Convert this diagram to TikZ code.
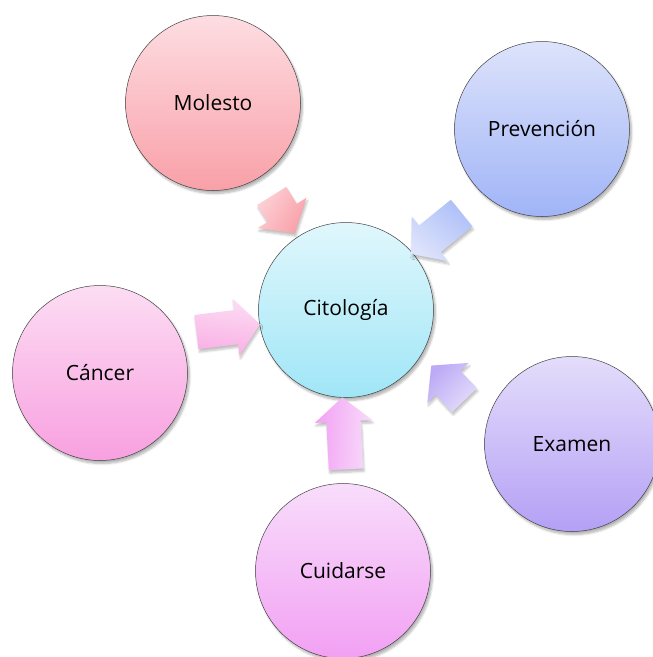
\documentclass[tikz,border=0pt]{standalone}
\usepackage{fontspec}
\setmainfont{Open Sans}
\usepackage{tikz}
\usetikzlibrary{shapes.arrows,shadows.blur,calc}

\definecolor{molestoA}{HTML}{FDDDE2}
\definecolor{molestoB}{HTML}{F9A0A8}
\definecolor{prevA}{HTML}{DDE3FB}
\definecolor{prevB}{HTML}{A0B4F7}
\definecolor{citoA}{HTML}{E0F7FC}
\definecolor{citoB}{HTML}{A0E6F7}
\definecolor{cancerA}{HTML}{FCDDF3}
\definecolor{cancerB}{HTML}{F8A0E0}
\definecolor{examenA}{HTML}{E4DDFB}
\definecolor{examenB}{HTML}{B4A0F5}
\definecolor{cuidA}{HTML}{F8DDFB}
\definecolor{cuidB}{HTML}{F2A0F3}

\begin{document}
\begin{tikzpicture}[x=1pt,y=-1pt,
  bubble/.style={circle, draw=black!75, line width=0.5pt, minimum size=175pt, inner sep=0pt,
    font=\fontsize{21}{25}\selectfont,
    blur shadow={shadow xshift=2pt, shadow yshift=-3pt, shadow opacity=30, shadow blur steps=6}},
  flow/.style={single arrow, draw=none, single arrow head extend=11.5pt, single arrow tip angle=100,
    minimum width=57pt, inner xsep=0pt, inner ysep=17pt, minimum height=#1,
    blur shadow={shadow xshift=1pt, shadow yshift=-3pt, shadow opacity=25, shadow blur steps=5}},
  turn/.style={rotate=#1, shading angle=-#1}]
  \useasboundingbox (0,0) rectangle (653,657);

  \node[bubble, top color=molestoA, bottom color=molestoB] (molesto) at (213,103) {Molesto};
  \node[bubble, top color=prevA, bottom color=prevB] (prevencion) at (542,129) {Prevención};
  \node[bubble, top color=citoA, bottom color=citoB] (citologia) at (346,310) {Citología};
  \node[bubble, top color=cancerA, bottom color=cancerB] (cancer) at (100,373) {Cáncer};
  \node[bubble, top color=examenA, bottom color=examenB] (examen) at (572,444) {Examen};
  \node[bubble, top color=cuidA, bottom color=cuidB] (cuidarse) at (343,571) {Cuidarse};

  % flechas hacia el centro
  \node[flow=44pt, top color=molestoA!80!molestoB, bottom color=molestoB, turn=-58] (f1)
    at ($(molesto)!.5!(citologia)+(0,2)$) {};
  \node[flow=65pt, top color=prevA, bottom color=prevB!85!white, turn=-141] (f2)
    at ($(prevencion)!.5!(citologia)+(-2,9.5)$) {};
  \node[flow=64pt, top color=cancerA, bottom color=cancerB!85!white, turn=7] (f3)
    at ($(cancer)!.5!(citologia)+(-2,-12.5)$) {};
  \node[flow=48pt, top color=examenA, bottom color=examenB!90!white, turn=134] (f4)
    at ($(examen)!.5!(citologia)+(-6,11)$) {};
  \node[flow=72pt, top color=cuidA, bottom color=cuidB, turn=93] (f5)
    at ($(cuidarse)!.5!(citologia)$) {};
\end{tikzpicture}
\end{document}
